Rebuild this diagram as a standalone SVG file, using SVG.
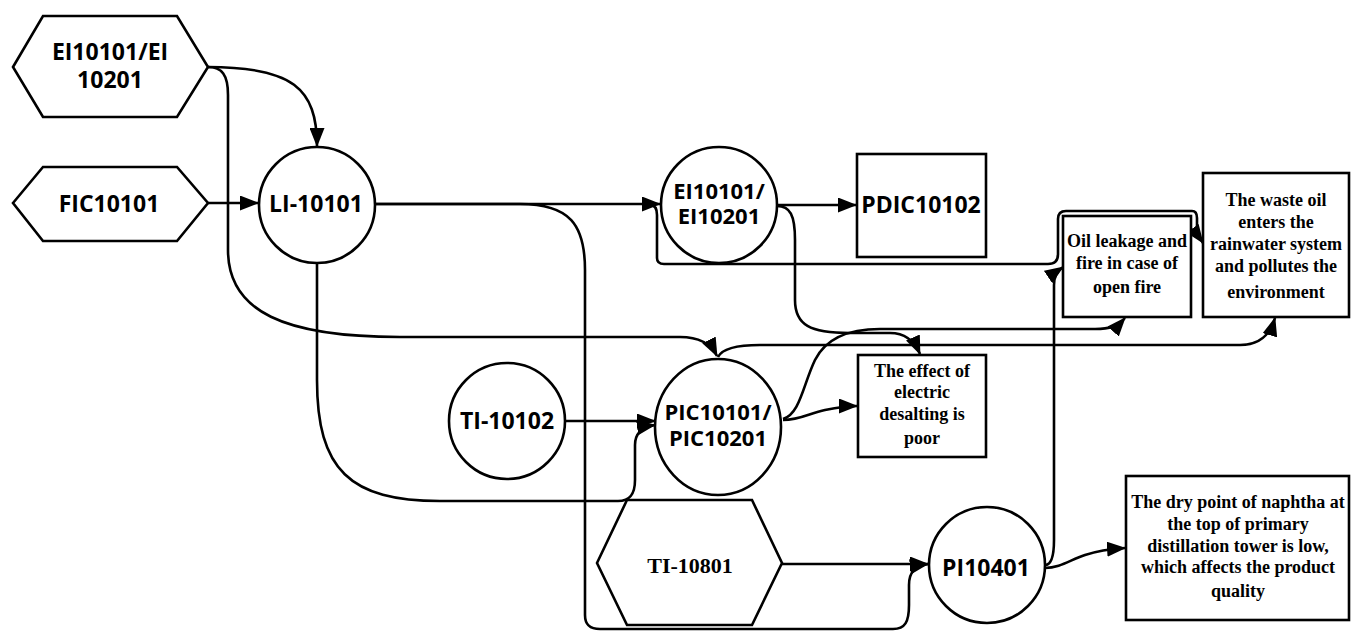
<svg xmlns="http://www.w3.org/2000/svg" width="1351" height="631" viewBox="0 0 1351 631">
<style>
.sh{fill:#fff;stroke:#000;stroke-width:2.6}
.c{fill:none;stroke:#000;stroke-width:2.6;marker-end:url(#ah)}
.s{font-family:"Open Sans","DejaVu Sans",sans-serif;font-weight:700;font-size:23px;text-anchor:middle;fill:#000}
.s2{font-size:22px}
.t{font-family:"Liberation Serif","Times New Roman",serif;font-weight:700;font-size:18px;text-anchor:middle;fill:#000}
</style>
<defs>
<marker id="ah" markerUnits="userSpaceOnUse" markerWidth="19" markerHeight="15" refX="18" refY="7.5" orient="auto">
<path d="M0,0 L19,7.5 L0,15 z" fill="#000"/>
</marker>
</defs>
<rect width="1351" height="631" fill="#fff"/>
<g id="connectors">
<path class="c" d="M208,67 C292,67 317,88 317,146"/>
<path class="c" d="M208,203 L258,203"/>
<path class="c" d="M208,67 C222,67 228,75 228,95 L228,250 C228,312 285,337 400,337 L680,337 C700,337 711,344 717,356"/>
<path class="c" d="M376,204 L660,204"/>
<path class="c" d="M376,204 L520,204 C570,204 585,225 585,270 L585,615 C585,625 590,629 600,629 L893,629 C905,629 909,622 909,605 L909,585 C909,572 915,566 928,564"/>
<path class="c" d="M782,564 L928,564"/>
<path class="c" d="M777,205 L856,205"/>
<path class="c" d="M777,206 C790,206 795,215 795,240 L795,300 C795,325 810,333 850,333 L890,333 C905,333 914,340 920,354"/>
<path class="c" d="M650,205 C655,205 657,208 657,215 L657,258 Q657,264 664,264 L1048,264 Q1058,264 1058,254 L1058,219 Q1058,211 1066,211 L1192,211 Q1197,211 1197,218 L1197,228 Q1198,236 1203,243"/>
<path class="c" d="M565,421 L655,421"/>
<path class="c" d="M317,262 L317,380 C317,470 350,501 440,501 L618,501 C630,501 635,494 635,480 L635,445 C635,433 642,427 655,425"/>
<path class="c" d="M718,357 C722,349 735,345 760,345 L1240,345 C1260,345 1270,335 1275,318"/>
<path class="c" d="M783,419 C800,414 803,385 815,360 C825,340 845,329 880,329 L1095,329 C1110,329 1118,326 1125,318"/>
<path class="c" d="M783,420 C800,420 810,413 825,410 C835,408 845,406 857,406"/>
<path class="c" d="M1045,565 C1052,565 1054,555 1054,540 L1054,285 C1054,276 1057,271 1063,267"/>
<path class="c" d="M1045,568 C1060,568 1070,560 1085,555 C1100,550 1110,549 1125,548"/>
</g>
<g id="n-ei-hex">
<polygon class="sh" points="13,67 43,16 177,16 208,67 177,117 43,117"/>
<text class="s" x="110" y="60">EI10101/EI</text>
<text class="s" x="110" y="88">10201</text>
</g>
<g id="n-fic">
<polygon class="sh" points="13,203 43,167 177,167 208,203 177,241 43,241"/>
<text class="s" x="109" y="212">FIC10101</text>
</g>
<g id="n-li">
<circle class="sh" cx="317" cy="205" r="58"/>
<text class="s" x="316" y="212">LI-10101</text>
</g>
<g id="n-ei-circle">
<circle class="sh" cx="719" cy="205" r="58"/>
<text class="s s2" x="719" y="199">EI10101/</text>
<text class="s s2" x="719" y="224">EI10201</text>
</g>
<g id="n-pdic">
<rect class="sh" x="857" y="154" width="129" height="103"/>
<text class="s" x="921" y="213">PDIC10102</text>
</g>
<g id="n-oil">
<rect class="sh" x="1063" y="216" width="128" height="101"/>
<text class="t" x="1127" y="247">Oil leakage and</text>
<text class="t" x="1127" y="269">fire in case of</text>
<text class="t" x="1127" y="293">open fire</text>
</g>
<g id="n-waste">
<rect class="sh" x="1203" y="173" width="146" height="144"/>
<text class="t" x="1276" y="206">The waste oil</text>
<text class="t" x="1276" y="228">enters the</text>
<text class="t" x="1276" y="250">rainwater system</text>
<text class="t" x="1276" y="272">and pollutes the</text>
<text class="t" x="1276" y="298">environment</text>
</g>
<g id="n-ti10102">
<circle class="sh" cx="507" cy="421" r="58"/>
<text class="s" x="507" y="429">TI-10102</text>
</g>
<g id="n-pic">
<ellipse class="sh" cx="718" cy="427" rx="63" ry="68"/>
<text class="s s2" x="718" y="420">PIC10101/</text>
<text class="s s2" x="718" y="446">PIC10201</text>
</g>
<g id="n-effect">
<rect class="sh" x="858" y="355" width="128" height="102"/>
<text class="t" x="922" y="377">The effect of</text>
<text class="t" x="922" y="398">electric</text>
<text class="t" x="922" y="420">desalting is</text>
<text class="t" x="922" y="444">poor</text>
</g>
<g id="n-ti10801">
<polygon class="sh" points="597,563 627,500 752,500 782,563 752,625 627,625"/>
<text class="t" x="690" y="573" style="font-size:22px">TI-10801</text>
</g>
<g id="n-pi">
<circle class="sh" cx="987" cy="565" r="58"/>
<text class="s" x="986" y="576">PI10401</text>
</g>
<g id="n-dry">
<rect class="sh" x="1126" y="476" width="223" height="144"/>
<text class="t" x="1238" y="508">The dry point of naphtha at</text>
<text class="t" x="1238" y="530">the top of primary</text>
<text class="t" x="1238" y="552">distillation tower is low,</text>
<text class="t" x="1238" y="573">which affects the product</text>
<text class="t" x="1238" y="597">quality</text>
</g>
</svg>
